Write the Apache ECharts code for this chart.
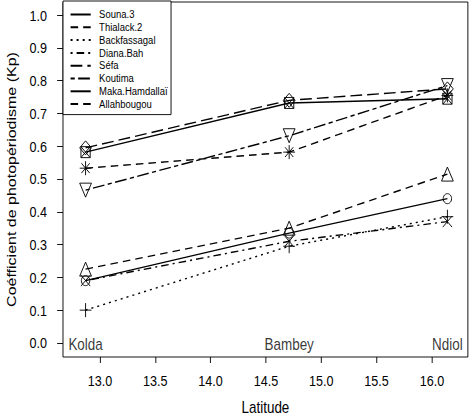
<!DOCTYPE html>
<html>
<head>
<meta charset="utf-8" />
<script src="https://cdn.jsdelivr.net/npm/echarts@6/dist/echarts.min.js"></script>
<title>Kp</title>
</head>
<body style="margin:0;background:#fff;overflow:hidden">
<!-- la figure d'origine est compressee en largeur : on dessine plus large puis on resserre -->
<div style="width:475px;height:420px;overflow:hidden">
	<div id="main" style="width:566px;height:420px;transform:scaleX(0.84);transform-origin:0 0"></div>
</div>
<script type="text/javascript">
// latitude des sites
var latitude = [12.87, 14.71, 16.14];
var sites = ['Kolda', 'Bambey', 'Ndiol'];

// Kp par variete (Kolda, Bambey, Ndiol)
var souna3 = [0.19, 0.335, 0.44];
var thialack2 = [0.225, 0.35, 0.515];
var backfassagal = [0.10, 0.295, 0.385];
var dianaBah = [0.19, 0.31, 0.37];
var sefa = [0.595, 0.74, 0.775];
var koutima = [0.466, 0.632, 0.785];
var makaHamdallai = [0.582, 0.732, 0.745];
var allahbougou = [0.533, 0.582, 0.755];

var xTicks = [13, 13.5, 14, 14.5, 15, 15.5, 16];
var yTicks = [0, 0.1, 0.2, 0.3, 0.4, 0.5, 0.6, 0.7, 0.8, 0.9, 1.0];

var font = 'Liberation Sans';

// symboles facon R (pch 1..8)
var pch = {
	circle: 'circle',
	triangle: 'path://M0,-1L0.866,0.5L-0.866,0.5Z',
	plus: 'path://M0,-1L0,1M-1,0L1,0',
	cross: 'path://M-1,-1L1,1M-1,1L1,-1',
	diamond: 'diamond',
	invTriangle: 'path://M-0.866,-0.5L0.866,-0.5L0,1Z',
	squareX: 'path://M-1,-1L1,-1L1,1L-1,1ZM-1,-1L1,1M-1,1L1,-1',
	star: 'path://M0,-1L0,1M-1,0L1,0M-0.7,-0.7L0.7,0.7M-0.7,0.7L0.7,-0.7'
};

function serie(name, vals, dash, symbol, size) {
	return {
		name: name,
		type: 'line',
		data: latitude.map(function (x, i) { return [x, vals[i]]; }),
		symbol: symbol,
		symbolSize: size,
		showAllSymbol: true,
		lineStyle: { color: '#000', width: 1.4, type: dash },
		itemStyle: { color: 'rgba(0,0,0,0)', borderColor: '#000', borderWidth: 1 },
		emphasis: { disabled: true },
		silent: true
	};
}

var names = ['Souna.3', 'Thialack.2', 'Backfassagal', 'Diana.Bah', 'Séfa', 'Koutima', 'Maka.Hamdallaï', 'Allahbougou'];

var myChart = echarts.init(document.getElementById('main'), null, { renderer: 'svg' });
myChart.setOption({
	animation: false,
	backgroundColor: '#fff',
	grid: {
		left: 75, right: 9, top: 2, bottom: 63,
		outerBoundsMode: 'none',  // sinon v6 retrecit la grille pour garder "Latitude" dans le cadre
		show: true, borderColor: '#000', borderWidth: 1
	},
	legend: {
		orient: 'vertical',
		left: 75, top: 1,
		padding: [8, 4, 5, 8],
		itemWidth: 24,
		itemHeight: 9,
		itemGap: 1.8,
		borderColor: '#000',
		borderWidth: 1,
		borderRadius: 0,
		backgroundColor: '#fff',
		itemStyle: { opacity: 0 },
		textStyle: { fontSize: 11.3, lineHeight: 10, fontFamily: font, color: '#000', padding: [0, 0, 0, 5] },
		data: names
	},
	xAxis: {
		type: 'value',
		min: 12.666, max: 16.325,
		name: 'Latitude',
		nameLocation: 'middle',
		nameGap: 43,
		nameTextStyle: { fontSize: 16, fontFamily: font, color: '#000' },
		axisLine: { show: false, onZero: false },
		axisTick: { show: true, length: 6, customValues: xTicks, lineStyle: { color: '#000' } },
		axisLabel: {
			customValues: xTicks, margin: 16, fontSize: 15, fontFamily: font, color: '#000',
			formatter: function (v) { return v.toFixed(1); }
		},
		splitLine: { show: false }
	},
	yAxis: {
		type: 'value',
		min: -0.043, max: 1.04,
		name: 'Coéfficient de photopériodisme (Kp)',
		nameLocation: 'middle',
		nameGap: 53,
		nameTextStyle: { fontSize: 16, fontFamily: font, color: '#000' },
		axisLine: { show: false, onZero: false },
		axisTick: { show: true, length: 7, customValues: yTicks, lineStyle: { color: '#000' } },
		axisLabel: {
			customValues: yTicks, margin: 19, fontSize: 15, fontFamily: font, color: '#000',
			formatter: function (v) { return v.toFixed(1); }
		},
		splitLine: { show: false }
	},
	series: [
		serie('Souna.3', souna3, 'solid', pch.circle, 10),
		serie('Thialack.2', thialack2, [9, 6], pch.triangle, 14),
		serie('Backfassagal', backfassagal, [2.4, 4.8], pch.plus, 14),
		serie('Diana.Bah', dianaBah, [2.4, 4.8, 9, 4.8], pch.cross, 11),
		serie('Séfa', sefa, [14, 6], pch.diamond, 14),
		serie('Koutima', koutima, [5, 4, 14, 4], pch.invTriangle, 14),
		serie('Maka.Hamdallaï', makaHamdallai, 'solid', pch.squareX, 11),
		serie('Allahbougou', allahbougou, [9, 6], pch.star, 14),
		{
			name: 'sites',
			type: 'scatter',
			symbolSize: 1,
			itemStyle: { color: 'rgba(0,0,0,0)' },
			silent: true,
			data: latitude.map(function (x, i) { return [x, 0, sites[i]]; }),
			label: {
				show: true, position: 'inside', offset: [0, 2], fontSize: 16, fontFamily: font, color: '#000',
				formatter: function (p) { return p.value[2]; }
			}
		}
	]
});
</script>
</body>
</html>
